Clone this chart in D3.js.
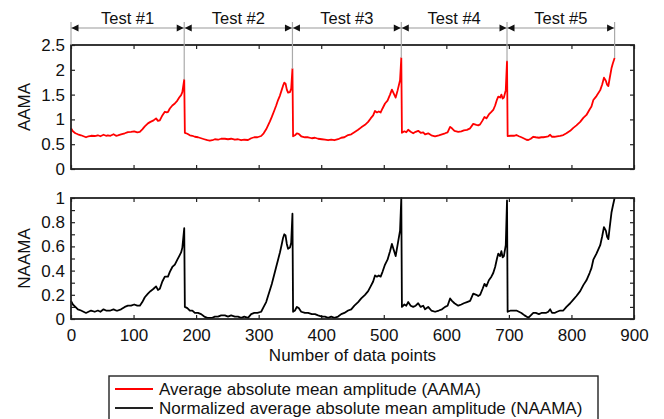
<!DOCTYPE html>
<html>
<head>
<meta charset="utf-8">
<script src="https://cdn.jsdelivr.net/npm/d3@7"></script>
<style>
  body { margin: 0; background: #fff; }
  svg { font-family: Arial, "Liberation Sans", sans-serif; }
</style>
</head>
<body>
<svg width="664" height="419"></svg>
<script>
// ---- data ----
const testLabels = ['Test #1', 'Test #2', 'Test #3', 'Test #4', 'Test #5']
const testBounds = [0, 181, 354, 528, 697, 869]

const xTicks = [0, 100, 200, 300, 400, 500, 600, 700, 800, 900]
const aamaTicks = [0, 0.5, 1, 1.5, 2, 2.5]
const naamaTicks = [0, 0.1, 0.2, 0.3, 0.4, 0.5, 0.6, 0.7, 0.8, 0.9, 1]
const naamaTickLabels = ['0', '', '0.2', '', '0.4', '', '0.6', '', '0.8', '', '1']

const legendLabels = [
  'Average absolute mean amplitude (AAMA)',
  'Normalized average absolute mean amplitude (NAAMA)'
]

// [data point index, AAMA]
const aamaPoints = [
  [0,0.82],[3,0.76],[7,0.72],[11,0.70],[16,0.68],[20,0.66],[24,0.64],[28,0.66],[32,0.67],[38,0.665],
  [43,0.68],[47,0.66],[52,0.69],[56,0.67],[59,0.68],[63,0.67],[68,0.70],[72,0.67],[75,0.68],[80,0.70],
  [86,0.72],[91,0.745],[96,0.75],[101,0.76],[106,0.74],[110,0.75],[114,0.80],[118,0.86],[123,0.92],[127,0.95],
  [132,0.98],[136,1.02],[139,0.97],[142,0.98],[146,1.08],[150,1.155],[153,1.14],[155,1.15],[158,1.22],[162,1.28],
  [166,1.32],[170,1.38],[173,1.44],[176,1.49],[178,1.55],[181,1.80],
  [182,0.73],[186,0.71],[190,0.68],[194,0.67],[198,0.65],[203,0.64],[208,0.62],[213,0.60],[218,0.58],[222,0.57],
  [226,0.58],[230,0.60],[235,0.59],[240,0.61],[246,0.61],[251,0.60],[256,0.61],[262,0.59],[267,0.60],[272,0.58],
  [277,0.59],[283,0.585],[288,0.62],[293,0.64],[298,0.64],[304,0.665],[308,0.72],[312,0.80],[315,0.88],[318,0.96],
  [321,1.05],[325,1.18],[328,1.28],[331,1.39],[334,1.48],[337,1.60],[339,1.68],[341,1.74],[343,1.72],[345,1.60],
  [347,1.54],[350,1.55],[352,1.62],[354,2.02],
  [355,0.66],[358,0.68],[361,0.72],[364,0.71],[368,0.66],[374,0.64],[379,0.64],[385,0.62],[390,0.63],[395,0.61],
  [401,0.60],[406,0.59],[411,0.58],[416,0.59],[421,0.58],[427,0.60],[432,0.63],[437,0.64],[443,0.685],[448,0.70],
  [453,0.74],[459,0.79],[464,0.84],[470,0.89],[475,0.95],[479,1.02],[483,1.08],[486,1.17],[489,1.14],[492,1.16],
  [495,1.14],[498,1.22],[502,1.32],[506,1.38],[510,1.50],[513,1.60],[516,1.52],[519,1.44],[522,1.58],[526,1.79],
  [528,2.24],
  [529,0.73],[533,0.76],[536,0.74],[539,0.79],[543,0.75],[547,0.72],[551,0.75],[555,0.77],[559,0.73],[563,0.74],
  [566,0.70],[571,0.72],[576,0.68],[582,0.66],[588,0.68],[593,0.70],[598,0.72],[602,0.74],[606,0.85],[609,0.82],
  [613,0.77],[619,0.75],[624,0.76],[628,0.78],[633,0.79],[638,0.82],[643,0.91],[648,0.89],[651,0.88],[654,0.90],
  [658,0.98],[661,1.05],[664,1.02],[668,1.10],[672,1.15],[675,1.19],[678,1.28],[681,1.40],[683,1.46],[686,1.44],
  [688,1.50],[690,1.42],[692,1.44],[695,1.59],[697,2.17],
  [698,0.665],[703,0.67],[708,0.67],[712,0.685],[716,0.66],[720,0.64],[725,0.61],[728,0.59],[731,0.585],[735,0.61],
  [739,0.65],[743,0.64],[748,0.63],[752,0.64],[755,0.64],[759,0.65],[763,0.66],[766,0.69],[769,0.65],[773,0.65],
  [777,0.66],[782,0.67],[787,0.685],[792,0.72],[798,0.77],[803,0.83],[808,0.88],[814,0.95],[819,1.03],[824,1.09],
  [829,1.20],[832,1.26],[835,1.39],[840,1.47],[846,1.59],[849,1.70],[852,1.84],[855,1.78],[857,1.70],[859,1.67],
  [861,1.82],[864,2.03],[866,2.12],[869,2.24]
]

// [data point index, NAAMA]
const naamaPoints = [
  [0,0.15],[3,0.12],[7,0.10],[11,0.08],[16,0.07],[20,0.06],[24,0.05],[28,0.06],[32,0.07],[38,0.06],
  [43,0.07],[47,0.06],[52,0.08],[56,0.07],[59,0.07],[63,0.07],[68,0.08],[72,0.07],[75,0.07],[80,0.08],
  [86,0.10],[91,0.11],[96,0.11],[101,0.12],[106,0.11],[110,0.11],[114,0.14],[118,0.18],[123,0.21],[127,0.23],
  [132,0.25],[136,0.27],[139,0.24],[142,0.25],[146,0.31],[150,0.35],[153,0.35],[155,0.35],[158,0.39],[162,0.43],
  [166,0.45],[170,0.49],[173,0.52],[176,0.55],[178,0.59],[181,0.75],
  [182,0.10],[186,0.09],[190,0.07],[194,0.07],[198,0.05],[203,0.05],[208,0.04],[213,0.02],[218,0.01],[222,0.01],
  [226,0.01],[230,0.02],[235,0.02],[240,0.03],[246,0.03],[251,0.02],[256,0.03],[262,0.02],[267,0.02],[272,0.01],
  [277,0.02],[283,0.01],[288,0.04],[293,0.05],[298,0.05],[304,0.06],[308,0.10],[312,0.14],[315,0.19],[318,0.24],
  [321,0.29],[325,0.37],[328,0.43],[331,0.49],[334,0.55],[337,0.62],[339,0.67],[341,0.70],[343,0.69],[345,0.62],
  [347,0.58],[350,0.59],[352,0.63],[354,0.87],
  [355,0.06],[358,0.07],[361,0.10],[364,0.09],[368,0.06],[374,0.05],[379,0.05],[385,0.04],[390,0.04],[395,0.03],
  [401,0.02],[406,0.02],[411,0.01],[416,0.02],[421,0.01],[427,0.02],[432,0.04],[437,0.05],[443,0.07],[448,0.08],
  [453,0.11],[459,0.14],[464,0.17],[470,0.20],[475,0.23],[479,0.27],[483,0.31],[486,0.36],[489,0.35],[492,0.36],
  [495,0.35],[498,0.39],[502,0.45],[506,0.49],[510,0.56],[513,0.62],[516,0.57],[519,0.52],[522,0.61],[526,0.73],
  [528,1.00],
  [529,0.10],[533,0.12],[536,0.11],[539,0.14],[543,0.11],[547,0.10],[551,0.11],[555,0.13],[559,0.10],[563,0.11],
  [566,0.08],[571,0.10],[576,0.07],[582,0.06],[588,0.07],[593,0.08],[598,0.10],[602,0.11],[606,0.17],[609,0.15],
  [613,0.13],[619,0.11],[624,0.12],[628,0.13],[633,0.14],[638,0.15],[643,0.21],[648,0.20],[651,0.19],[654,0.20],
  [658,0.25],[661,0.29],[664,0.27],[668,0.32],[672,0.35],[675,0.38],[678,0.43],[681,0.50],[683,0.54],[686,0.52],
  [688,0.56],[690,0.51],[692,0.52],[695,0.61],[697,0.98],
  [698,0.06],[703,0.07],[708,0.07],[712,0.07],[716,0.06],[720,0.05],[725,0.03],[728,0.02],[731,0.01],[735,0.03],
  [739,0.05],[743,0.05],[748,0.04],[752,0.05],[755,0.05],[759,0.05],[763,0.06],[766,0.08],[769,0.05],[773,0.05],
  [777,0.06],[782,0.07],[787,0.07],[792,0.10],[798,0.13],[803,0.16],[808,0.19],[814,0.23],[819,0.28],[824,0.32],
  [829,0.38],[832,0.42],[835,0.49],[840,0.54],[846,0.61],[849,0.68],[852,0.76],[855,0.73],[857,0.68],[859,0.66],
  [861,0.75],[864,0.88],[866,0.93],[869,1.00]
]

// ---- layout ----
const plotLeft = 71, plotRight = 634
const topPanel = { top: 45, bottom: 169 }
const botPanel = { top: 198, bottom: 319 }
const tickLen = 4
const textColor = '#111'

const svg = d3.select('svg')

const x = d3.scaleLinear().domain([0, 900]).range([plotLeft, plotRight])
const yTop = d3.scaleLinear().domain([0, 2.5]).range([topPanel.bottom, topPanel.top])
const yBot = d3.scaleLinear().domain([0, 1]).range([botPanel.bottom, botPanel.top])

function drawPanel(panel, y, yTickVals, yFormat, points, color) {
  const g = svg.append('g')

  // ticks pointing inward on all four sides
  g.append('g')
    .attr('transform', `translate(0,${panel.bottom})`)
    .call(d3.axisBottom(x).tickValues(xTicks).tickSize(-tickLen).tickFormat(''))
  g.append('g')
    .attr('transform', `translate(0,${panel.top})`)
    .call(d3.axisTop(x).tickValues(xTicks).tickSize(-tickLen).tickFormat(''))
  g.append('g')
    .attr('transform', `translate(${plotLeft},0)`)
    .call(d3.axisLeft(y).tickValues(yTickVals).tickSize(-tickLen).tickPadding(6).tickFormat(yFormat))
  g.append('g')
    .attr('transform', `translate(${plotRight},0)`)
    .call(d3.axisRight(y).tickValues(yTickVals).tickSize(-tickLen).tickFormat(''))

  g.selectAll('.domain').remove()
  g.selectAll('.tick line').attr('stroke', '#222').attr('stroke-width', 1.2)
  g.selectAll('.tick text').attr('font-size', 17).attr('fill', textColor)
    .attr('font-family', 'Arial, "Liberation Sans", sans-serif')

  const line = d3.line().x(d => x(d[0])).y(d => y(d[1]))
  g.append('path')
    .datum(points)
    .attr('fill', 'none')
    .attr('stroke', color)
    .attr('stroke-width', 1.8)
    .attr('stroke-linejoin', 'round')
    .attr('d', line)

  g.append('rect')
    .attr('x', plotLeft)
    .attr('y', panel.top)
    .attr('width', plotRight - plotLeft)
    .attr('height', panel.bottom - panel.top)
    .attr('fill', 'none')
    .attr('stroke', '#222')
    .attr('stroke-width', 1.8)
  return g
}

drawPanel(topPanel, yTop, aamaTicks, d => String(d), aamaPoints, '#ff0000')
const bottom = drawPanel(botPanel, yBot, naamaTicks, (d, i) => naamaTickLabels[i], naamaPoints, '#000')

// x labels under the lower panel
bottom.append('g')
  .attr('transform', `translate(0,${botPanel.bottom})`)
  .call(d3.axisBottom(x).tickValues(xTicks).tickSize(0).tickPadding(10))
  .call(g => g.select('.domain').remove())
  .selectAll('text')
  .attr('font-size', 17)
  .attr('fill', textColor)
  .attr('font-family', 'Arial, "Liberation Sans", sans-serif')

// axis titles
svg.append('text')
  .attr('transform', `translate(30,${(topPanel.top + topPanel.bottom) / 2}) rotate(-90)`)
  .attr('text-anchor', 'middle')
  .attr('font-size', 17)
  .attr('fill', textColor)
  .text('AAMA')
svg.append('text')
  .attr('transform', `translate(30,${(botPanel.top + botPanel.bottom) / 2}) rotate(-90)`)
  .attr('text-anchor', 'middle')
  .attr('font-size', 17)
  .attr('fill', textColor)
  .text('NAAMA')
svg.append('text')
  .attr('x', (plotLeft + plotRight) / 2)
  .attr('y', 361)
  .attr('text-anchor', 'middle')
  .attr('font-size', 17)
  .attr('fill', textColor)
  .text('Number of data points')

// test segments with arrows
const arrowY = 28
const peakAt = b => (aamaPoints.find(p => p[0] === b) || [b, 2.5])[1]

svg.append('g')
  .selectAll('line')
  .data(testBounds)
  .join('line')
    .attr('x1', d => x(d)).attr('x2', d => x(d))
    .attr('y1', 22)
    .attr('y2', (d, i) => i === 0 ? topPanel.top : yTop(peakAt(d)))
    .attr('stroke', '#aaa')
    .attr('stroke-width', 1.2)

svg.append('line')
  .attr('x1', x(testBounds[0])).attr('x2', x(testBounds[testBounds.length - 1]))
  .attr('y1', arrowY).attr('y2', arrowY)
  .attr('stroke', '#999')
  .attr('stroke-width', 1)

const segments = testLabels.map((label, i) => ({ label, a: testBounds[i], b: testBounds[i + 1] }))
const seg = svg.append('g').selectAll('g').data(segments).join('g')
seg.append('path')
  .attr('d', d => {
    const xa = x(d.a) + 0.5, xb = x(d.b) - 0.5
    return `M${xa},${arrowY}L${xa + 7},${arrowY - 3.5}L${xa + 7},${arrowY + 3.5}Z` +
           `M${xb},${arrowY}L${xb - 7},${arrowY - 3.5}L${xb - 7},${arrowY + 3.5}Z`
  })
  .attr('fill', textColor)
seg.append('text')
  .attr('x', d => (x(d.a) + x(d.b)) / 2)
  .attr('y', 24)
  .attr('text-anchor', 'middle')
  .attr('font-size', 16.5)
  .attr('fill', textColor)
  .text(d => d.label)

// legend
const legend = svg.append('g')
legend.append('rect')
  .attr('x', 109).attr('y', 376)
  .attr('width', 489).attr('height', 60)
  .attr('fill', '#fff')
  .attr('stroke', '#222')
  .attr('stroke-width', 1.4)
legend.selectAll('line')
  .data(legendLabels)
  .join('line')
    .attr('x1', 115).attr('x2', 153)
    .attr('y1', (d, i) => 389 + i * 19).attr('y2', (d, i) => 389 + i * 19)
    .attr('stroke', (d, i) => i === 0 ? '#ff0000' : '#222')
    .attr('stroke-width', 1.8)
legend.selectAll('text')
  .data(legendLabels)
  .join('text')
    .attr('x', 159)
    .attr('y', (d, i) => 389 + i * 19)
    .attr('dy', '0.35em')
    .attr('font-size', 17)
    .attr('fill', textColor)
    .text(d => d)
</script>
</body>
</html>
